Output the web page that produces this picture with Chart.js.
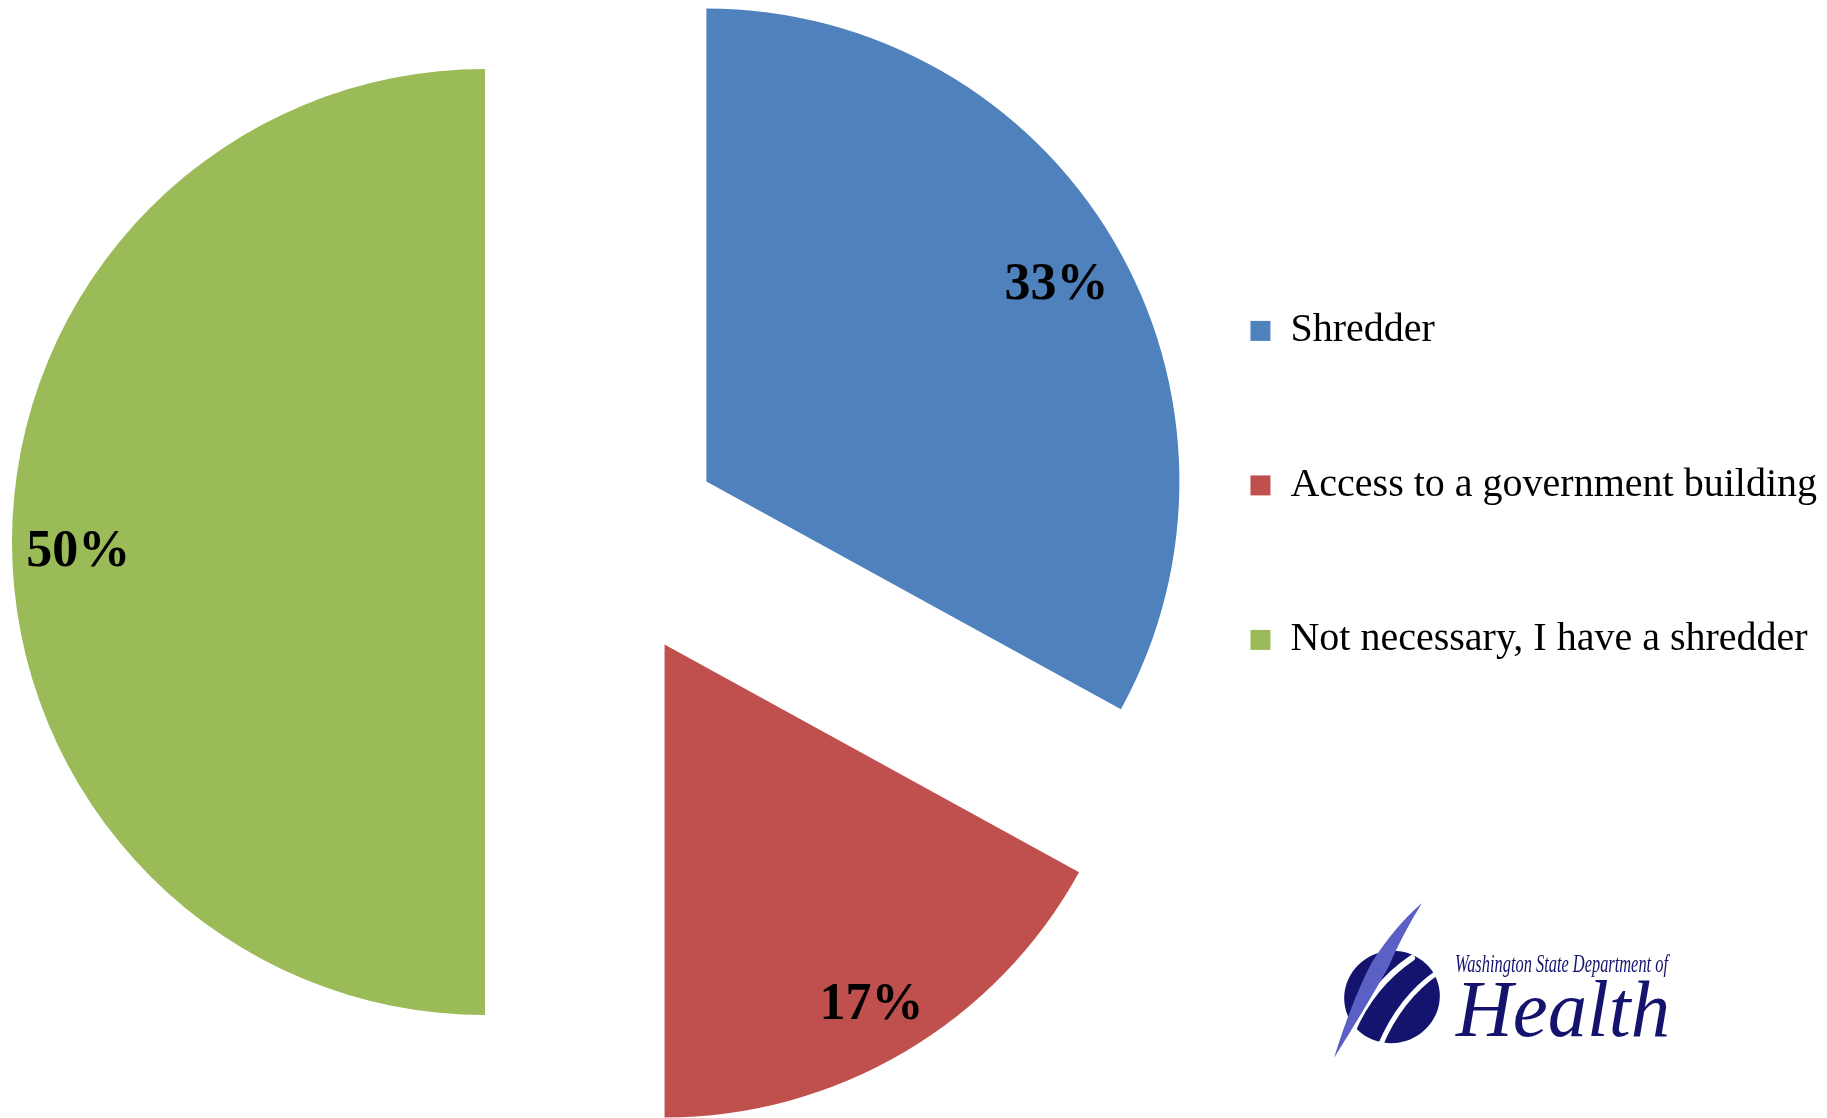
<!DOCTYPE html>
<html>
<head>
<meta charset="utf-8">
<title>Shredding options</title>
<script src="https://cdn.jsdelivr.net/npm/chart.js@4.4.1/dist/chart.umd.min.js"></script>
<style>
  html, body { margin: 0; padding: 0; background: #fff; }
  #wrap { position: relative; width: 1827px; height: 1118px; }
</style>
</head>
<body>
<div id="wrap"><canvas id="shredChart"></canvas></div>
<script>
const categories = ['Shredder', 'Access to a government building', 'Not necessary, I have a shredder'];
const percents = [33, 17, 50];
const sliceColors = ['#4F81BD', '#C0504D', '#9BBB59'];

// push every slice away from the centre along its middle angle
const explodeSlices = {
  id: 'explodeSlices',
  afterDatasetUpdate(chart, args, opts) {
    args.meta.data.forEach(arc => {
      const mid = (arc.startAngle + arc.endAngle) / 2;
      arc.x += Math.cos(mid) * opts.distance;
      arc.y += Math.sin(mid) * opts.distance;
    });
  }
};

// percentage text near the outer edge of each slice
const sliceLabels = {
  id: 'sliceLabels',
  afterDatasetsDraw(chart, args, opts) {
    const ctx = chart.ctx;
    const meta = chart.getDatasetMeta(0);
    ctx.save();
    ctx.font = opts.font;
    ctx.fillStyle = opts.color;
    ctx.textAlign = 'center';
    ctx.textBaseline = 'middle';
    meta.data.forEach((arc, i) => {
      const mid = (arc.startAngle + arc.endAngle) / 2;
      const r = arc.outerRadius * opts.place;
      ctx.fillText(percents[i] + '%', arc.x + Math.cos(mid) * r, arc.y + Math.sin(mid) * r + opts.dy);
    });
    ctx.restore();
  }
};

// department logo in the lower right corner
const healthLogo = {
  id: 'healthLogo',
  afterDraw(chart) {
    const ctx = chart.ctx;
    const navy = '#14146e';
    ctx.save();

    // round emblem
    ctx.fillStyle = navy;
    ctx.beginPath();
    ctx.ellipse(1392, 997, 48, 46, -0.3, 0, Math.PI * 2);
    ctx.fill();

    ctx.strokeStyle = '#fff';
    ctx.lineCap = 'round';
    ctx.lineWidth = 6;
    ctx.beginPath();
    ctx.moveTo(1352, 1032);
    ctx.quadraticCurveTo(1372, 985, 1412, 958);
    ctx.stroke();
    ctx.lineWidth = 5;
    ctx.beginPath();
    ctx.moveTo(1380, 1046);
    ctx.quadraticCurveTo(1400, 998, 1438, 972);
    ctx.stroke();

    // feather stroke
    ctx.fillStyle = '#5a60c4';
    ctx.beginPath();
    ctx.moveTo(1334, 1058);
    ctx.quadraticCurveTo(1352, 1000, 1372, 962);
    ctx.quadraticCurveTo(1396, 925, 1422, 903);
    ctx.quadraticCurveTo(1402, 935, 1388, 968);
    ctx.quadraticCurveTo(1364, 1010, 1334, 1058);
    ctx.fill();

    // wordmark
    ctx.fillStyle = navy;
    ctx.textBaseline = 'alphabetic';
    ctx.textAlign = 'left';
    ctx.font = 'italic 26px "Liberation Serif"';
    ctx.fillText('Washington State Department of', 1455, 972, 213);
    ctx.font = 'italic 80px "Liberation Serif"';
    ctx.fillText('Health', 1456, 1036, 214);

    ctx.restore();
  }
};

new Chart(document.getElementById('shredChart'), {
  type: 'pie',
  data: {
    labels: categories,
    datasets: [{
      data: percents,
      backgroundColor: sliceColors,
      borderWidth: 0,
      radius: 473,
      clip: false
    }]
  },
  options: {
    responsive: true,
    maintainAspectRatio: false,
    animation: false,
    events: [],
    layout: {
      padding: { left: 72, right: 0, top: 0, bottom: 34 }
    },
    plugins: {
      tooltip: { enabled: false },
      legend: {
        position: 'right',
        align: 'start',
        title: {
          display: true,
          text: '',
          padding: { top: 182, bottom: 0 }
        },
        labels: {
          boxWidth: 20,
          boxHeight: 20,
          padding: 114.5,
          color: '#000',
          font: { family: 'Liberation Serif', size: 40 }
        }
      },
      explodeSlices: { distance: 119 },
      sliceLabels: {
        font: 'bold 52px "Liberation Serif"',
        color: '#000',
        place: 0.86,
        dy: 11
      }
    }
  },
  plugins: [explodeSlices, sliceLabels, healthLogo]
});
</script>
</body>
</html>
